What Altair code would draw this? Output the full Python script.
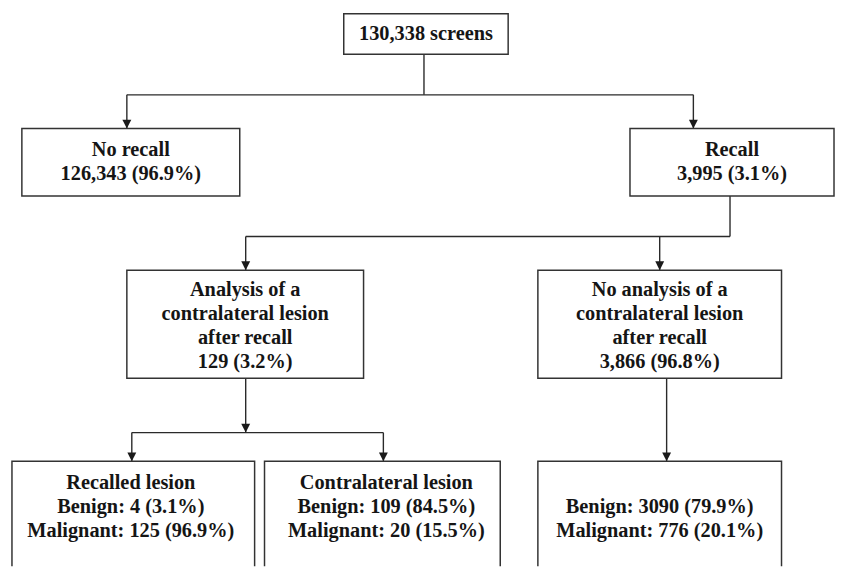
import altair as alt
import pandas as pd

# ---- text content of the flowchart ----
top_lines = ["130,338 screens"]
norecall_lines = ["No recall", "126,343 (96.9%)"]
recall_lines = ["Recall", "3,995 (3.1%)"]
analysis_lines = ["Analysis of a", "contralateral lesion", "after recall", "129 (3.2%)"]
noanalysis_lines = ["No analysis of a", "contralateral lesion", "after recall", "3,866 (96.8%)"]
recalled_lines = ["Recalled lesion", "Benign: 4 (3.1%)", "Malignant: 125 (96.9%)"]
contra_lines = ["Contralateral lesion", "Benign: 109 (84.5%)", "Malignant: 20 (15.5%)"]
rest_lines = ["Benign: 3090 (79.9%)", "Malignant: 776 (20.1%)"]

# ---- diagram layout (pixel space of the figure) ----
W, H = 843, 569
LINE = 24.3

boxes = pd.DataFrame([
    dict(x=347, x2=513, y=11, y2=52, cx=430, cy=31.5, lines=top_lines),
    dict(x=22, x2=242, y=127, y2=195, cx=132, cy=148.5, lines=norecall_lines),
    dict(x=636, x2=842, y=127, y2=195, cx=739, cy=148.5, lines=recall_lines),
    dict(x=128, x2=367, y=270, y2=379, cx=247.5, cy=290, lines=analysis_lines),
    dict(x=543, x2=789, y=270, y2=379, cx=666, cy=290, lines=noanalysis_lines),
    dict(x=12, x2=257, y=463, y2=620, cx=132, cy=485, lines=recalled_lines),
    dict(x=267, x2=505, y=463, y2=620, cx=390, cy=485, lines=contra_lines),
    dict(x=543, x2=789, y=463, y2=620, cx=666, cy=509, lines=rest_lines),
])

texts = []
for _, b in boxes.iterrows():
    for i, t in enumerate(b["lines"]):
        texts.append(dict(x=b["cx"], y=b["cy"] + i * LINE, text=t))
texts = pd.DataFrame(texts)

segments = pd.DataFrame([
    dict(x=428, x2=428, y=52, y2=93),
    dict(x=128, x2=700, y=93, y2=93),
    dict(x=128, x2=128, y=93, y2=127),
    dict(x=700, x2=700, y=93, y2=127),
    dict(x=737, x2=737, y=195, y2=236),
    dict(x=248, x2=737, y=236, y2=236),
    dict(x=248, x2=248, y=236, y2=270),
    dict(x=666, x2=666, y=236, y2=270),
    dict(x=248, x2=248, y=379, y2=434),
    dict(x=133, x2=387, y=434, y2=434),
    dict(x=133, x2=133, y=434, y2=463),
    dict(x=387, x2=387, y=434, y2=463),
    dict(x=673, x2=673, y=379, y2=463),
])

arrows = pd.DataFrame([
    dict(x=128, y=127), dict(x=700, y=127),
    dict(x=248, y=270), dict(x=666, y=270),
    dict(x=248, y=434),
    dict(x=133, y=463), dict(x=387, y=463), dict(x=673, y=463),
])

xs = alt.Scale(domain=[8, W], range=[0, W - 8], nice=False, zero=False)
ys = alt.Scale(domain=[8, H], range=[0, H - 8], nice=False, zero=False)

X = lambda f="x": alt.X(f, type="quantitative", scale=xs, axis=None)
Y = lambda f="y": alt.Y(f, type="quantitative", scale=ys, axis=None)

rules = alt.Chart(segments).mark_rule(color="#2a2a2a", strokeWidth=1.4, clip=True).encode(
    x=X(), x2="x2", y=Y(), y2="y2"
)

heads = alt.Chart(arrows).mark_point(
    shape="M-0.5,-1L0.5,-1L0,0Z", size=324, filled=True, color="#1a1a1a", opacity=1,
    strokeWidth=0, clip=True
).encode(x=X(), y=Y())

rects = alt.Chart(boxes.drop(columns=["lines"])).mark_rect(
    fill="white", stroke="#333333", strokeWidth=1.5, clip=True
).encode(x=X(), x2="x2", y=Y(), y2="y2")

labels = alt.Chart(texts).mark_text(
    font="Liberation Serif", fontWeight="bold", fontSize=20.5, color="#151515",
    align="center", baseline="middle", clip=True
).encode(x=X(), y=Y(), text="text:N")

chart = alt.layer(rules, heads, rects, labels).properties(
    width=W - 8, height=H - 8, padding=0, background="white"
).configure_view(strokeWidth=0)

chart.save("out.html", embed_options={"renderer": "svg", "actions": False})
